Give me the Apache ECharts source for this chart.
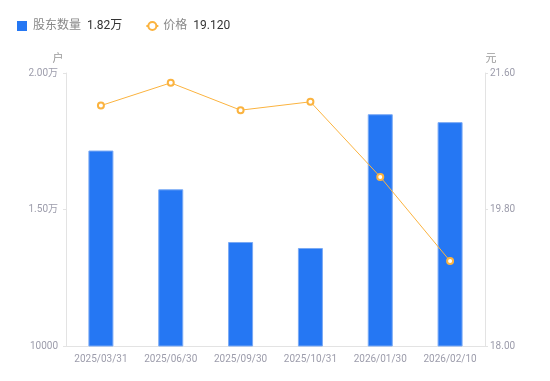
<!DOCTYPE html>
<html><head><meta charset="utf-8">
<script src="https://cdn.jsdelivr.net/npm/echarts@6/dist/echarts.min.js"></script>
<style>html,body{margin:0;padding:0;background:#fff}#c{width:550px;height:381px}</style>
</head><body><div id="c"></div>
<script>
var categories = ['2025/03/31','2025/06/30','2025/09/30','2025/10/31','2026/01/30','2026/02/10'];
var holders = [17160, 15740, 13810, 13590, 18490, 18200];
var prices = [21.17, 21.47, 21.11, 21.22, 20.23, 19.12];
var leftTicks = {min: 10000, max: 20000, interval: 5000};
var rightTicks = {min: 18, max: 21.6, interval: 1.8};
var legendValues = {'股东数量': '1.82万', '价格': '19.120'};

var chart = echarts.init(document.getElementById('c'));
chart.setOption({
  animation: false,
  textStyle: {fontFamily: 'Roboto, "Noto Sans CJK SC", sans-serif'},
  legend: {
    left: 12, top: 15, itemWidth: 12, itemHeight: 10, itemGap: 23, symbolKeepAspect: true,
    data: [{name: '股东数量', icon: 'path://M0,0H10V10H0Z', itemStyle: {borderWidth: 0}},
           {name: '价格', itemStyle: {borderWidth: 1.5}}],
    formatter: function (n) { return '{a|' + n + '}  {b|' + legendValues[n] + '}'; },
    textStyle: {rich: {a: {color: '#888', fontSize: 12}, b: {color: '#333', fontSize: 12}}}
  },
  grid: {left: 66, right: 65, top: 73, bottom: 35},
  xAxis: {
    type: 'category', data: categories,
    axisLine: {lineStyle: {color: '#e3e3e3'}},
    axisTick: {show: false},
    axisLabel: {color: '#9c9cab', fontSize: 10, margin: 8}
  },
  yAxis: [{
    type: 'value', name: '户', min: leftTicks.min, max: leftTicks.max, interval: leftTicks.interval,
    nameTextStyle: {color: '#999', fontSize: 11, padding: [0, 16, 0, 0]}, nameGap: 8,
    axisLine: {show: true, lineStyle: {color: '#e3e3e3'}},
    axisTick: {show: true, length: 3, lineStyle: {color: '#e3e3e3'}},
    splitLine: {show: false},
    axisLabel: {color: '#9c9cab', fontSize: 10, margin: 8,
      formatter: function (v) { return v >= 15000 ? (v / 10000).toFixed(2) + '万' : String(v); }}
  }, {
    type: 'value', name: '元', min: rightTicks.min, max: rightTicks.max, interval: rightTicks.interval,
    nameTextStyle: {color: '#999', fontSize: 11, padding: [0, 0, 0, 12]}, nameGap: 8,
    axisLine: {show: true, lineStyle: {color: '#e3e3e3'}},
    axisTick: {show: true, length: 3, lineStyle: {color: '#e3e3e3'}},
    splitLine: {show: false},
    axisLabel: {color: '#9c9cab', fontSize: 10, margin: 5, formatter: function (v) { return v.toFixed(2); }}
  }],
  series: [{
    name: '股东数量', type: 'bar', data: holders, barWidth: 25, yAxisIndex: 0,
    itemStyle: {color: '#2577f3', borderColor: '#7aaaf5', borderWidth: 1}
  }, {
    name: '价格', type: 'line', data: prices, yAxisIndex: 1,
    symbol: 'emptyCircle', symbolSize: 6,
    lineStyle: {color: '#fbb33f', width: 1},
    itemStyle: {color: '#fbb33f', borderWidth: 2}
  }]
});
</script></body></html>
